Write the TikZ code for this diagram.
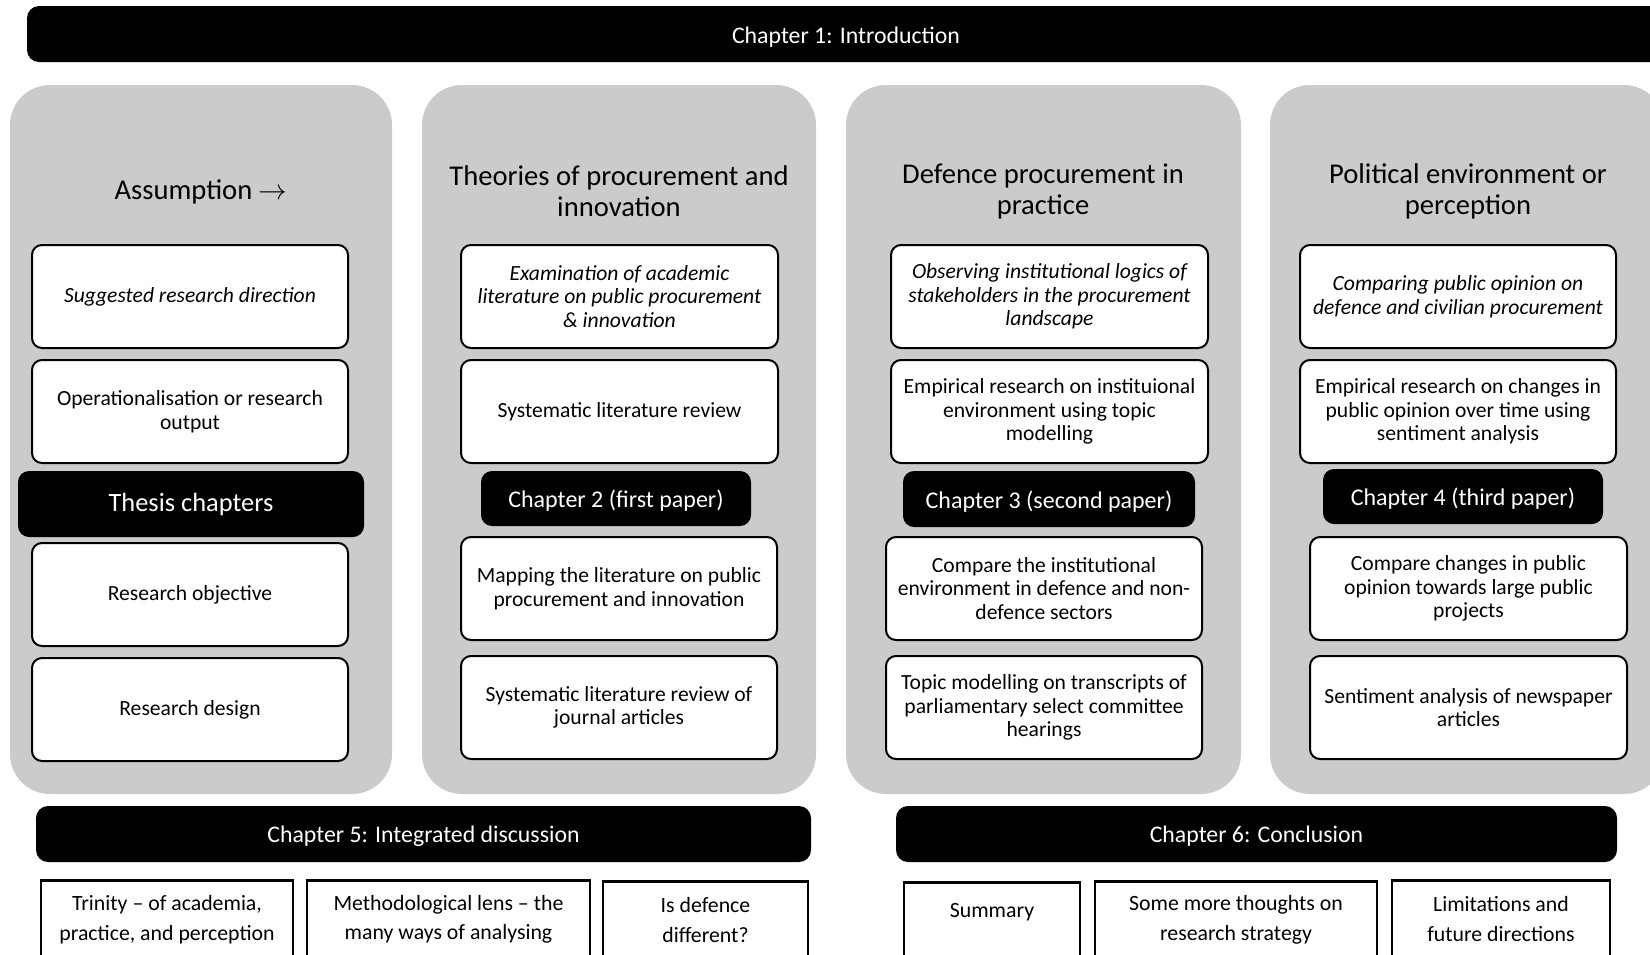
\documentclass[tikz,border=0pt]{standalone}
\usepackage{fontspec}
\setmainfont{Carlito}
\definecolor{panelgray}{RGB}{203,203,203}
\newcommand{\dn}[1]{\raisebox{-2.2pt}[\height][\depth]{#1}}
\tikzset{
  panel/.style={fill=panelgray, rounded corners=40pt},
  wbox/.style={draw=black, line width=2pt, rounded corners=10pt, fill=white, align=center,
    minimum width=316pt, minimum height=103pt, inner sep=0pt, font=\fontsize{21.6}{23.6}\selectfont},
  ibox/.style={wbox, font=\fontsize{21.6}{23.6}\selectfont\itshape},
  bbox/.style={fill=black, text=white, rounded corners=11pt, align=center, inner sep=0pt,
    font=\fontsize{24}{27}\selectfont},
  bar/.style={fill=black, text=white, rounded corners=12pt, inner sep=0pt,
    font=\fontsize{23.8}{27}\selectfont},
  head/.style={align=center, inner sep=0pt, font=\fontsize{28.6}{31}\selectfont},
  sbox/.style={draw=black, line width=2.5pt, fill=white, inner sep=0pt, minimum height=110pt},
  stext/.style={align=center, inner sep=0pt, font=\fontsize{21.8}{29.5}\selectfont}
}
\begin{document}
\begin{tikzpicture}[x=1pt,y=-1pt]
\useasboundingbox (0,0) rectangle (1650,954);
\clip (0,0) rectangle (1650,954);
\fill[white] (0,0) rectangle (1650,954);
% top bar
\node[bar, minimum width=1638pt, minimum height=56pt] (ch1) at (846,34) {\raisebox{-3pt}[\height][\depth]{Chapter 1: Introduction}};
% panels
\node[panel, minimum width=382pt, minimum height=709pt] (p1) at (201,439.5) {};
\node[panel, minimum width=394pt, minimum height=709pt] (p2) at (619,439.5) {};
\node[panel, minimum width=395pt, minimum height=709pt] (p3) at (1043.5,439.5) {};
\node[panel, minimum width=394pt, minimum height=709pt] (p4) at (1467,439.5) {};
% headings
\node[head] (h1) at (201,192) {Assumption \scalebox{1.15}{$\rightarrow$}};
\node[head] (h2) at (619,191.5) {Theories of procurement and\\innovation};
\node[head] (h3) at (1043,191.5) {Defence procurement in\\practice};
\node[head] (h4) at (1468,191.5) {Political environment or\\perception};
% panel 1
\node[ibox] (a1) at (190,296.5) {Suggested research direction};
\node[wbox] (a2) at (190,411.5) {Operationalisation or research\\output};
\node[bbox, minimum width=346pt, minimum height=66pt, font=\fontsize{26.4}{28}\selectfont] (a3) at (191,504) {Thesis chapters};
\node[wbox] (a4) at (190,594.5) {Research objective};
\node[wbox] (a5) at (190,709.5) {Research design};
% panel 2
\node[ibox, minimum width=317pt] (b1) at (619.5,296.5) {Examination of academic\\literature on public procurement\\\& innovation};
\node[wbox, minimum width=317pt] (b2) at (619.5,411.5) {Systematic literature review};
\node[bbox, minimum width=270pt, minimum height=55pt] (b3) at (616,498.5) {\dn{Chapter 2 (first paper)}};
\node[wbox] (b4) at (619,588.5) {Mapping the literature on public\\procurement and innovation};
\node[wbox] (b5) at (619,707.5) {Systematic literature review of\\journal articles};
% panel 3
\node[ibox, minimum width=317pt] (c1) at (1049.5,296.5) {Observing institutional logics of\\stakeholders in the procurement\\landscape};
\node[wbox, minimum width=317pt] (c2) at (1049.5,411.5) {Empirical research on instituional\\environment using topic\\modelling};
\node[bbox, minimum width=292pt, minimum height=56pt] (c3) at (1049,499) {\dn{Chapter 3 (second paper)}};
\node[wbox] (c4) at (1044,588.5) {Compare the institutional\\environment in defence and non-\\defence sectors};
\node[wbox] (c5) at (1044,707.5) {Topic modelling on transcripts of\\parliamentary select committee\\hearings};
% panel 4
\node[ibox] (d1) at (1458,296.5) {Comparing public opinion on\\defence and civilian procurement};
\node[wbox] (d2) at (1458,411.5) {Empirical research on changes in\\public opinion over time using\\sentiment analysis};
\node[bbox, minimum width=280pt, minimum height=55pt] (d3) at (1463,496.5) {\dn{Chapter 4 (third paper)}};
\node[wbox, minimum width=317pt] (d4) at (1468.5,588.5) {Compare changes in public\\opinion towards large public\\projects};
\node[wbox, minimum width=317pt] (d5) at (1468.5,707.5) {Sentiment analysis of newspaper\\articles};
% bottom bars
\node[bar, minimum width=775pt, minimum height=56pt] (ch5) at (423.5,834) {\dn{Chapter 5: Integrated discussion}};
\node[bar, minimum width=721pt, minimum height=56pt] (ch6) at (1256.5,834) {\dn{Chapter 6: Conclusion}};
% bottom boxes
\node[sbox, minimum width=252pt, anchor=north] (e1) at (167,879) {};
\node[sbox, minimum width=283pt, anchor=north] (e2) at (448.5,879) {};
\node[sbox, minimum width=205pt, anchor=north] (e3) at (705.5,880) {};
\node[sbox, minimum width=176pt, anchor=north] (f1) at (992,881) {};
\node[sbox, minimum width=282pt, anchor=north] (f2) at (1236,880) {};
\node[sbox, minimum width=218pt, anchor=north] (f3) at (1501,879) {};
\node[stext] (e1t) at (167,919.5) {Trinity – of academia,\\practice, and perception};
\node[stext] (e2t) at (448.5,919.5) {Methodological lens – the\\many ways of analysing};
\node[stext] (e3t) at (705.5,920) {Is defence\\different?};
\node[stext] (f1t) at (992,912) {Summary};
\node[stext] (f2t) at (1236,920) {Some more thoughts on\\research strategy};
\node[stext] (f3t) at (1501,919) {Limitations and\\future directions};
\end{tikzpicture}
\end{document}
